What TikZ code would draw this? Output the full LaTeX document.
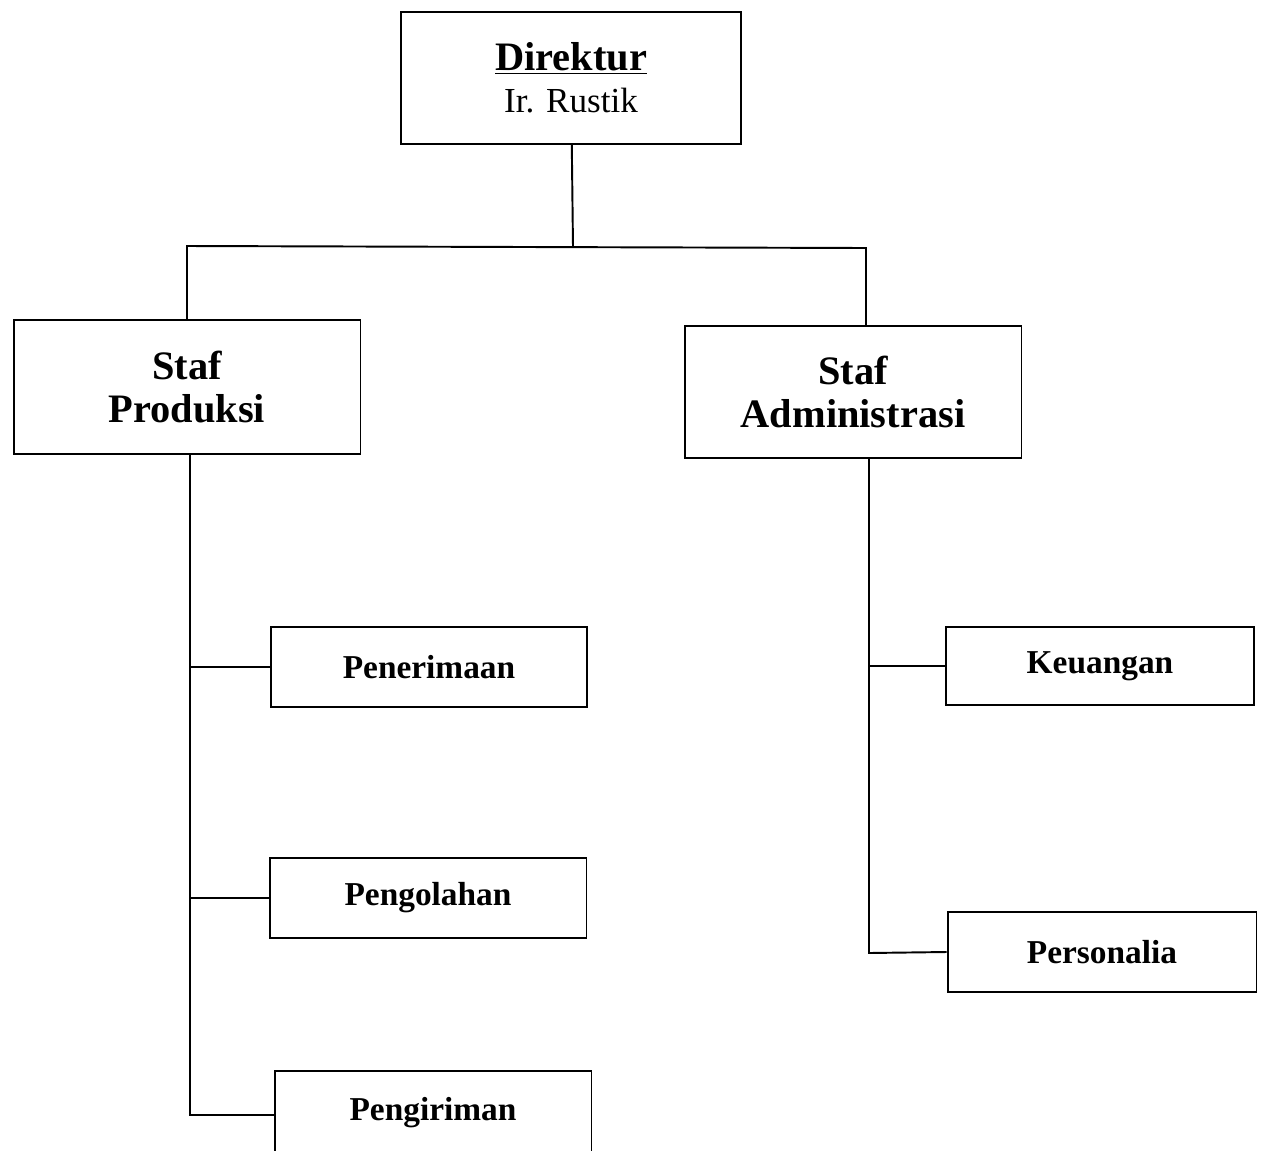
\documentclass[tikz,border=0pt]{standalone}
\usepackage{fontspec}
\setmainfont{Liberation Serif}
\usepackage{tikz}

\begin{document}
\begin{tikzpicture}[
  x=0.02cm, y=-0.02cm,
  box/.style={draw,line width=1.1pt,align=center,inner sep=2pt},
  bigbox/.style={box,font=\fontsize{23}{24.5}\selectfont\bfseries},
  smallbox/.style={box,font=\fontsize{19}{22}\selectfont\bfseries,minimum height=1.6cm},
  link/.style={line width=1.1pt}
  ]
\useasboundingbox (0,0) rectangle (1261,1150);
\clip (0,0) rectangle (1261,1150);
\node[box,font=\fontsize{23}{24}\selectfont,minimum width=6.8cm,minimum height=2.64cm] (dir) at (571,78)
  {\textbf{\underline{Direktur}}\\{\fontsize{20}{24}\selectfont Ir. Rustik}};  % top
\node[bigbox,minimum width=6.94cm,minimum height=2.68cm] (prod) at (187,387) {Staf\\Produksi};
\node[bigbox,minimum width=6.74cm,minimum height=2.64cm] (adm) at (853,392) {Staf\\Administrasi};
\node[smallbox,minimum width=6.32cm] (pen) at (429,667) {Penerimaan};    % under produksi
\node[smallbox,minimum width=6.34cm] (pgl) at (428,898) {Pengolahan};
\node[smallbox,minimum width=6.34cm,minimum height=1.68cm] (pgk) at (433,1113) {Pengiriman};
\node[smallbox,minimum width=6.16cm,minimum height=1.56cm] (keu) at (1100,666) {Keuangan};  % under administrasi
\node[smallbox,minimum width=6.18cm] (per) at (1102,952) {Personalia};
\coordinate (top) at (573,247);
\coordinate (j1) at (187,246);
\coordinate (j2) at (866,248);
\coordinate (lt) at (190,1115);
\coordinate (rt) at (869,953);
\draw[link] (dir) -- (top);
\draw[link] (prod.north) -- (j1) -- (j2) -- (j2 |- adm.north);
\draw[link] (lt |- prod.south) -- (lt) -- (lt -| pgk.west);
\draw[link] (lt |- pen.west) -- (pen.west);
\draw[link] (lt |- pgl.west) -- (pgl.west);
\draw[link] (rt |- adm.south) -- (rt) -- (per.west);
\draw[link] (rt |- keu.west) -- (keu.west);
\end{tikzpicture}
\end{document}
